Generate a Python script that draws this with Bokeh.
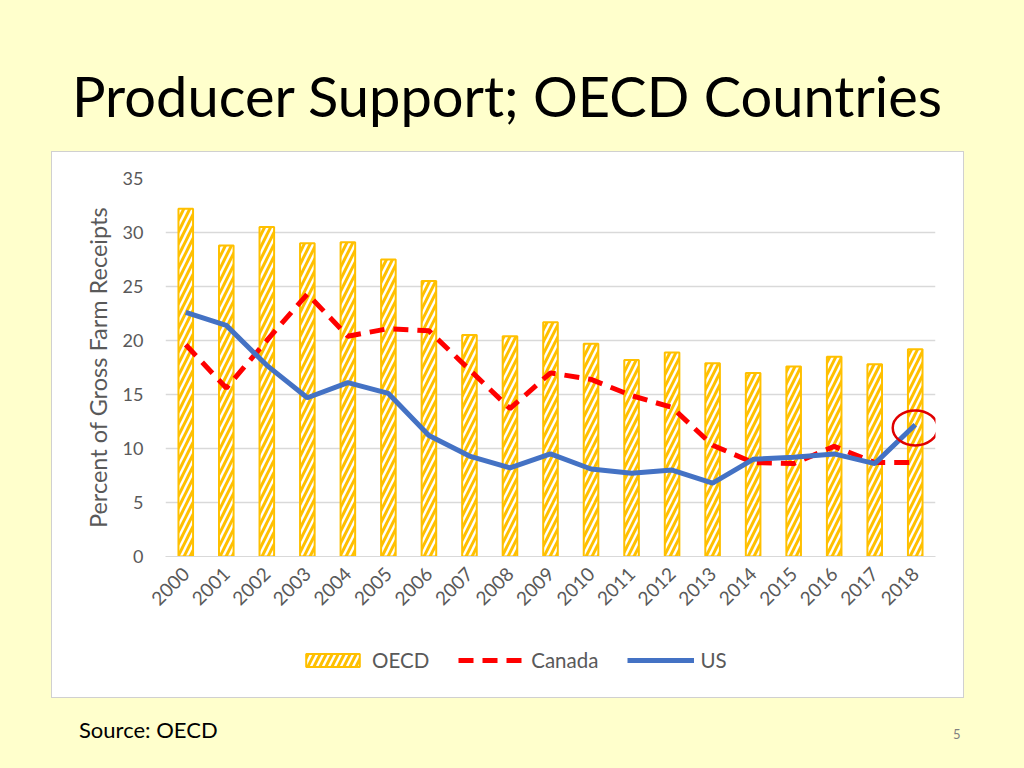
import math
from bokeh.plotting import figure
from bokeh.models import Div, Spacer, Legend, LegendItem, ColumnDataSource, FactorRange
from bokeh.layouts import column, row
from bokeh.embed import file_html
from bokeh.resources import INLINE

years = [str(y) for y in range(2000, 2019)]
oecd = [32.2, 28.8, 30.5, 29.0, 29.1, 27.5, 25.5, 20.5, 20.4, 21.7, 19.7,
        18.2, 18.9, 17.9, 17.0, 17.6, 18.5, 17.8, 19.2]
canada = [19.6, 15.6, 20.0, 24.3, 20.4, 21.1, 20.9, 17.3, 13.7, 17.0, 16.4,
          14.9, 13.8, 10.3, 8.7, 8.6, 10.2, 8.7, 8.7]
us = [22.6, 21.4, 17.7, 14.7, 16.1, 15.1, 11.2, 9.3, 8.2, 9.5, 8.1,
      7.7, 8.0, 6.8, 9.0, 9.2, 9.5, 8.6, 12.2]
y_ticks = [0, 5, 10, 15, 20, 25, 30, 35]
highlight_year = "2018"
highlight_value = 11.9

FONT = "Lato"
GREY = "#595959"
BAR_STYLE = dict(fill_color="white", line_color="#FFC000", line_width=2,
                 hatch_pattern="/", hatch_color="#FFC000", hatch_weight=3,
                 hatch_scale=12)
CAN_STYLE = dict(line_color="#FF0000", line_width=5, line_dash="15 9")
US_STYLE = dict(line_color="#4472C4", line_width=5)

src = ColumnDataSource(dict(year=years, oecd=oecd, canada=canada, us=us))

p = figure(x_range=FactorRange(*years), y_range=(0, 35),
           width=911, height=490, output_backend="svg", toolbar_location=None,
           min_border_left=113, min_border_right=28, min_border_top=26,
           min_border_bottom=86)
p.background_fill_color = "white"
p.border_fill_color = "white"
p.outline_line_color = None
p.x_range.range_padding = 0.0

p.vbar(x="year", top="oecd", width=0.36, source=src, **BAR_STYLE)
p.line(x="year", y="canada", source=src, **CAN_STYLE)
p.line(x="year", y="us", source=src, **US_STYLE)
p.ellipse(x=[highlight_year], y=[highlight_value], width=45, height=35,
          width_units="screen", height_units="screen", fill_color=None,
          line_color="#E00000", line_width=2.5)

p.yaxis.ticker = y_ticks
p.ygrid.grid_line_color = "#D9D9D9"
p.ygrid.grid_line_width = 1.5
p.xgrid.grid_line_color = None
p.yaxis.axis_line_color = None
p.yaxis.major_tick_line_color = None
p.yaxis.minor_tick_line_color = None
p.xaxis.axis_line_color = "#D9D9D9"
p.xaxis.major_tick_line_color = None
p.yaxis.major_label_text_font = FONT
p.yaxis.major_label_text_font_size = "18px"
p.yaxis.major_label_text_color = GREY
p.yaxis.major_label_standoff = 16
p.yaxis.axis_label = "Percent of Gross Farm Receipts"
p.yaxis.axis_label_text_font = FONT
p.yaxis.axis_label_text_font_size = "23.5px"
p.yaxis.axis_label_text_font_style = "normal"
p.yaxis.axis_label_text_color = GREY
p.yaxis.axis_label_standoff = 8
p.xaxis.major_label_text_font = FONT
p.xaxis.major_label_text_font_size = "19px"
p.xaxis.major_label_text_color = GREY
p.xaxis.major_label_orientation = math.pi / 4
p.xaxis.major_label_standoff = 8

# legend strip (separate figure so the legend can sit freely below the axis)
lf = figure(width=911, height=55, x_range=(0, 1), y_range=(0, 1),
            output_backend="svg", toolbar_location=None,
            x_axis_location=None, y_axis_location=None,
            min_border=0, min_border_left=0, min_border_right=0,
            min_border_top=0, min_border_bottom=0)
lf.grid.visible = False
lf.outline_line_color = None
lf.background_fill_color = "white"
lf.border_fill_color = "white"
# dummy renderers with no drawable points; only their legend swatches show
nan = float("nan")
dummy = ColumnDataSource(dict(x=[nan], top=[nan], y=[nan]))
lb = lf.vbar(x="x", top="top", width=0.1, source=dummy, **BAR_STYLE)
lc = lf.line(x="x", y="y", source=dummy, **CAN_STYLE)
lu = lf.line(x="x", y="y", source=dummy, **US_STYLE)
legend = Legend(items=[LegendItem(label="OECD", renderers=[lb]),
                       LegendItem(label="Canada", renderers=[lc]),
                       LegendItem(label="US", renderers=[lu])],
                orientation="horizontal", location=(134, 25),
                label_text_font=FONT, label_text_font_size="20.5px",
                label_text_color=GREY, glyph_width=67, glyph_height=16,
                label_standoff=6, spacing=29, border_line_color=None,
                background_fill_alpha=0, margin=0, padding=4)
lf.add_layout(legend, "center")

chart = column(p, lf, margin=0, styles={"box-shadow": "0 0 0 1px #D0D0D0",
                                        "background-color": "white"})

title = Div(text='<div style="font-family:Lato;font-size:56px;line-height:56px;'
                 'color:#000;padding-left:72px;padding-top:68px;white-space:nowrap;">'
                 'Producer Support; OECD Countries</div>',
            width=1020, height=152, margin=0)
footer = Div(text='<div style="position:relative;width:1000px;height:60px;">'
                  '<div style="position:absolute;left:79px;top:17px;font-family:Lato;'
                  'font-size:22px;color:#000;">Source: OECD</div>'
                  '<div style="position:absolute;left:953px;top:28px;font-family:Lato;'
                  'font-size:13px;color:#808080;">5</div></div>',
             width=1000, height=60, margin=0)

layout = column(title, row(Spacer(width=52, height=545, margin=0), chart, margin=0),
                footer, margin=0)

html = file_html(layout, INLINE)
html = html.replace("</head>",
                    "<style>html, body { background-color: #FFFFCC !important; }</style></head>", 1)
open("out.html", "w").write(html)
